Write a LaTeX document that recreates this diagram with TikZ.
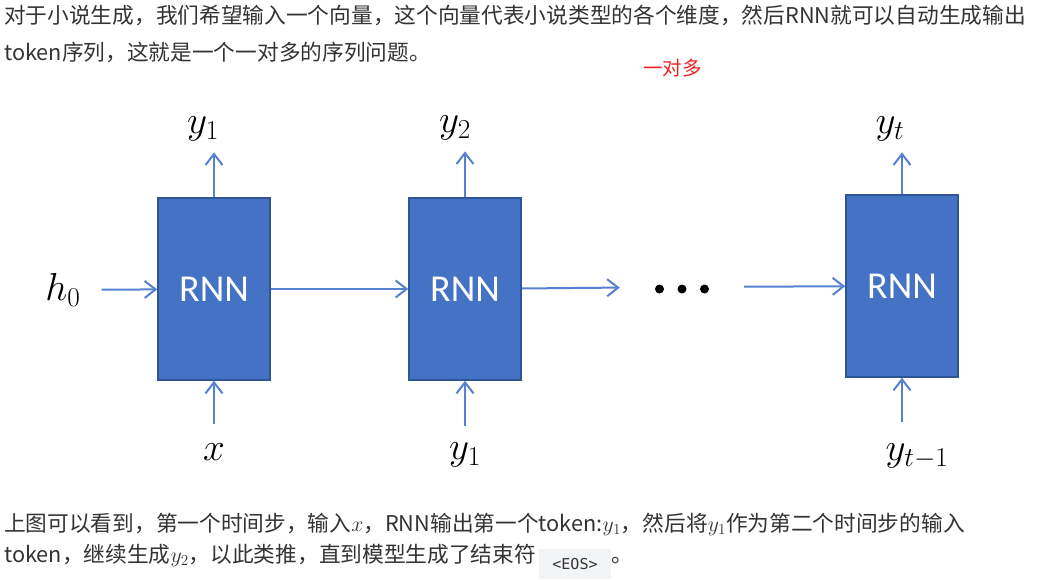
\RequirePackage{fix-cm}
\documentclass[tikz,border=0pt]{standalone}
\usepackage{fontspec}
\newfontfamily\cjk{Noto Sans CJK SC}
\newfontfamily\calib{Carlito}
\newfontfamily\codefont{DejaVu Sans Mono}
\usetikzlibrary{arrows.meta, positioning}
\definecolor{rnnblue}{RGB}{68, 114, 196}
\definecolor{rnnedge}{RGB}{47, 85, 151}
\definecolor{flowblue}{RGB}{86, 128, 208}
\definecolor{txtgray}{RGB}{51, 51, 51}
\definecolor{notered}{RGB}{240, 32, 32}
\definecolor{codebg}{RGB}{243, 244, 245}

\begin{document}
\begin{tikzpicture}[x=1pt, y=-1pt,
  rnn/.style={draw=rnnedge, line width=1.5pt, fill=rnnblue, minimum width=112pt, minimum height=182pt, inner sep=0pt, text=white, font=\calib\fontsize{38}{40}\selectfont},
  flow/.style={draw=flowblue, line width=2pt, -{Straight Barb[length=11pt, width=17pt]}},
  lab/.style={inner sep=0pt, font=\fontsize{39}{42}\selectfont},
  para/.style={anchor=base west, inner sep=0pt, text=txtgray, font=\cjk\fontsize{21.7}{24}\selectfont},
  code/.style={fill=codebg, text=txtgray, minimum width=72pt, minimum height=30pt, inner sep=0pt, font=\codefont\fontsize{15}{17}\selectfont}
]
  \useasboundingbox (0, 0) rectangle (1041, 579);

  % text above the picture
  \node[para] (intro1) at (4, 23) {对于小说生成，我们希望输入一个向量，这个向量代表小说类型的各个维度，然后RNN就可以自动生成输出};
  \node[para] (intro2) at (4, 60) {token序列，这就是一个一对多的序列问题。};
  \node[para, text=notered, font=\cjk\fontsize{19.5}{22}\selectfont] (note) at (643, 75) {一对多};

  % the unrolled network
  \node[rnn] (rnn1) at (214, 289) {RNN};
  \node[rnn] (rnn2) at (465, 289) {RNN};
  \node[rnn] (rnn3) at (902, 286) {RNN};
  \node[minimum width=124pt, minimum height=20pt, inner sep=0pt] (dots) at (682, 287) {};
  \foreach \i in {-1, 0, 1}
    \fill (dots.center) ++(\i*22.5, 2) circle (4.5);

  \node[lab] (h0) at (63, 290) {$h_0$};
  \node[lab] (out1) at (203, 129) {$y_1$};
  \node[lab] (out2) at (455, 128) {$y_2$};
  \node[lab] (out3) at (890, 129) {$y_t$};
  \node[lab] (in1) at (214, 452) {$x$};
  \node[lab] (in2) at (465, 455) {$y_1$};
  \node[lab] (in3) at (917, 456) {$y_{t-1}$};

  \draw[flow, shorten <=21pt] (h0) -- (rnn1);
  \draw[flow] (rnn1) -- (rnn2);
  \draw[flow] (rnn2) -- (dots);
  \draw[flow] (dots) -- (rnn3);
  \draw[flow, shorten >=11pt] (rnn1.north) -- (rnn1.north |- out1.south);
  \draw[flow, shorten >=11pt] (rnn2.north) -- (rnn2.north |- out2.south);
  \draw[flow, shorten >=11pt] (rnn3.north) -- (rnn3.north |- out3.south);
  \draw[flow, shorten <=19pt] (rnn1.south |- in1.north) -- (rnn1.south);
  \draw[flow, shorten <=17pt] (rnn2.south |- in2.north) -- (rnn2.south);
  \draw[flow, shorten <=21pt] (rnn3.south |- in3.north) -- (rnn3.south);

  % text below the picture
  \node[para] (outro1) at (4, 531) {上图可以看到，第一个时间步，输入$x$，RNN输出第一个token:$y_1$，然后将$y_1$作为第二个时间步的输入};
  \node[para] (outro2) at (4, 562) {token，继续生成$y_2$，以此类推，直到模型生成了结束符};
  \node[code] (eos) at (575, 564) {<EOS>};
  \node[para] (stop) at (611, 562) {。};
\end{tikzpicture}
\end{document}
